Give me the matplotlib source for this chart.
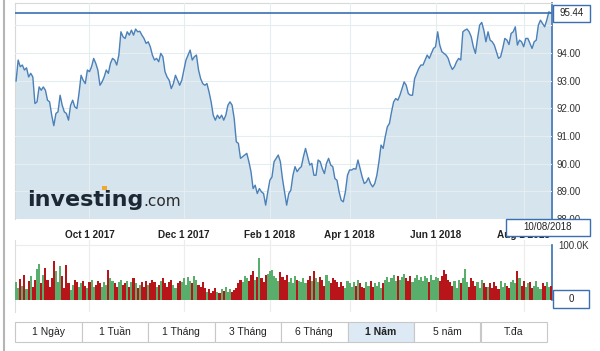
import numpy as np
import matplotlib.pyplot as plt
from matplotlib.patches import Rectangle
from matplotlib.lines import Line2D

# daily closes (one per trading day, Aug 2017 - Aug 2018)
price = [
    92.98, 93.74, 93.50, 93.56, 93.38, 93.46, 93.13, 93.26, 93.13, 92.17,
    92.23, 92.77, 92.65, 92.77, 92.65, 92.29, 92.23, 91.75, 91.37, 91.81,
    91.87, 92.47, 92.11, 91.87, 91.81, 91.57, 92.11, 92.29, 92.05, 91.99,
    92.53, 93.19, 93.01, 92.89, 93.38, 93.32, 93.50, 93.80, 93.62, 93.38,
    92.83, 92.95, 93.13, 93.38, 93.26, 93.62, 93.80,
    93.74, 93.56, 93.92, 94.76, 94.58, 94.52, 94.76, 94.64, 94.82, 94.64,
    94.86, 94.76, 94.78, 94.64, 94.52, 94.34, 94.40, 94.22, 93.92, 93.74,
    93.80, 93.68, 93.98, 93.86, 93.32, 93.13, 93.01, 92.71, 92.89, 93.19,
    93.01, 92.83, 93.01, 93.38, 93.74, 93.92, 94.10, 93.74, 93.86, 93.92,
    93.38, 93.07, 92.89, 92.83, 92.89, 92.59, 92.23, 91.75, 91.57, 91.75,
    91.63, 91.75,
    91.57, 91.75, 92.11, 92.23, 92.11, 91.63, 90.79, 90.73, 90.19, 90.25,
    90.31, 90.37, 90.07, 89.71, 89.10, 89.22, 88.92, 89.10, 88.98, 88.92,
    88.50, 88.98, 89.40, 89.52, 90.07, 90.19, 90.31, 90.07, 89.46, 88.98,
    88.50, 88.92, 89.04, 89.58, 89.89, 89.71, 89.82, 89.89, 90.25, 90.55,
    90.25, 89.95, 90.01, 89.58, 89.58, 90.13, 90.07, 89.82, 89.64, 90.01,
    90.19, 89.95, 89.89,
    89.46, 89.40, 88.98, 88.68, 88.62, 88.98, 89.58, 89.77, 89.77, 89.82,
    89.80, 90.13, 89.82, 89.52, 89.28, 89.34, 89.49, 89.28, 89.16, 89.28,
    89.58, 90.07, 90.67, 90.55, 90.97, 91.33, 91.45, 91.87, 92.23, 92.35,
    92.29, 92.47, 92.71, 92.95, 92.83, 92.53, 92.47, 92.47, 93.07, 93.26,
    93.44, 93.56, 93.56, 93.74, 93.92, 93.80, 93.98, 94.16, 94.22, 94.76,
    94.28, 94.04, 93.98,
    93.92, 93.80, 93.56, 93.40, 93.50, 93.68, 93.80, 93.74, 94.76, 94.82,
    94.86, 94.76, 94.58, 94.22, 93.98, 94.52, 95.00, 95.10, 94.82, 94.40,
    94.76, 94.46, 94.40, 94.28, 94.04, 93.80, 93.86, 94.16, 94.52, 94.46,
    94.30, 94.70, 94.76, 94.94, 94.28, 94.46, 94.40, 94.22, 94.52, 94.52,
    94.34, 94.16, 94.40, 94.46, 95.00, 95.18, 95.06, 94.94, 95.18, 95.48,
    95.44,
]

# daily volume in thousands
volume_k = [
    32, 22, 38, 26, 46, 20, 34, 44, 24, 36, 56, 66, 30, 46, 58, 36, 24, 40,
    70, 52, 32, 62, 44, 22, 64, 30, 18,
    28, 36, 32, 24, 30, 34, 26, 22, 32, 36, 24, 28, 34, 30, 24, 32, 28, 54,
    40, 34, 30, 24, 32, 36, 28, 30, 34, 24, 32, 40, 30, 22, 28, 32, 24, 34,
    28, 30, 36, 32, 24, 28, 34, 40, 30, 24, 32, 36, 28, 22, 30, 34,
    32, 40, 28, 42, 34, 30, 44, 36, 28, 24, 32, 22,
    14, 20, 12, 16, 22, 14, 12, 20, 16, 24, 15, 20, 14, 18, 22,
    30, 36, 32, 44, 40, 34, 46, 52, 36, 42, 76, 40, 32, 46, 48, 52, 54, 44,
    40, 34, 50, 42, 36, 46, 32, 40, 30, 44, 36, 34,
    32, 40, 30, 36, 44, 34, 52, 40, 32, 42, 36, 26, 46, 34, 30, 40, 36, 32,
    24, 32, 26, 22, 34, 30, 24, 32, 26, 36, 30, 24, 22, 32, 26, 34, 24, 30,
    26, 32, 22, 30,
    36, 42, 32, 40, 46, 34, 44, 36, 42, 48, 40, 34, 44, 32, 40, 46, 36, 42,
    34, 44, 40, 32, 46, 36, 42, 40, 34, 44, 54, 48, 36, 32,
    26, 34, 22, 36, 30, 40, 56, 32, 24, 40, 34, 26, 32, 22, 36, 30, 24,
    24, 30, 22, 32, 26, 20, 34, 24, 30, 26, 22, 32, 36, 30, 52, 40, 26, 34,
    24, 30, 32, 22, 26, 34, 24, 20, 30, 26, 32, 24, 26,
]

tick_idx = [35, 80, 121, 159, 200, 242]
tick_labels = ["Oct 1 2017", "Dec 1 2017", "Feb 1 2018", "Apr 1 2018", "Jun 1 2018", "Aug 1 2018"]
price_ticks = [88, 89, 90, 91, 92, 93, 94, 95]
last_price = 95.44
last_date = "10/08/2018"
buttons = ["1 Ngày", "1 Tuần", "1 Tháng", "3 Tháng", "6 Tháng", "1 Năm", "5 năm", "T.đa"]
active_button = "1 Năm"

W, H = 600, 351
BLUE = "#3a6fb0"


def fx(px):
    return px / W


def fy(py):
    return 1 - py / H


def box(fig, x0, y0, x1, y1, fc="white", ec=BLUE, lw=1.0, z=5):
    r = Rectangle((fx(x0), fy(y1)), (x1 - x0) / W, (y1 - y0) / H,
                  transform=fig.transFigure, fc=fc, ec=ec, lw=lw, zorder=z)
    fig.add_artist(r)


plt.rcParams["font.family"] = ["Liberation Sans", "DejaVu Sans"]

fig = plt.figure(figsize=(6, 3.51), dpi=100)
n = len(price)
x = np.arange(n)

# volume panel (created first so the price labels sit on top of it)
colors = ["#5aae6b" if i == 0 or price[i] >= price[i - 1] else "#b8151b" for i in range(n)]
axv = fig.add_axes([fx(15), fy(312), (552 - 15) / W, (312 - 240) / H])
axv.patch.set_visible(False)
axv.bar(x, volume_k, width=1.0, color=colors, lw=0, zorder=3)
axv.set_xlim(-0.5, n - 0.5)
axv.set_ylim(-21.8, 109)
axv.set_xticks(tick_idx)
axv.set_xticklabels([])
axv.set_yticks([])
axv.tick_params(axis="x", length=0)
axv.grid(True, axis="x", color="#ececec", lw=0.8)
axv.axhline(100, color="#ececec", lw=0.8)
for s in ["top", "bottom"]:
    axv.spines[s].set_visible(False)
axv.spines["left"].set_color("#dddddd")
axv.spines["right"].set_color(BLUE)
axv.spines["right"].set_linewidth(1.2)
axv.spines["right"].set_bounds(0, 100)

# price panel
ax = fig.add_axes([fx(15), fy(219), (552 - 15) / W, (219 - 3) / H])
ax.fill_between(x, price, 80, color="#d5e4ed", lw=0, zorder=1)
ax.plot(x, price, color="#4b80b8", lw=1.0, zorder=3)
ax.axhline(last_price, color=BLUE, lw=1.2, zorder=4)
ax.set_xlim(-0.5, n - 0.5)
ax.set_ylim(88.0, 95.8)
ax.set_yticks(price_ticks)
ax.set_yticklabels([f"{v:.2f}" if v < 95 else "" for v in price_ticks])
ax.yaxis.tick_right()
ax.tick_params(axis="y", length=0, pad=3.5, labelsize=7, labelcolor="#333333")
ax.set_xticks(tick_idx)
ax.set_xticklabels(tick_labels, fontweight="bold", fontsize=7.2, color="#222222")
ax.tick_params(axis="x", length=0, pad=8)
ax.set_axisbelow(False)
ax.grid(True, color="#e6edf1", lw=0.8)
for s in ["left", "top"]:
    ax.spines[s].set_color("#d8d8d8")
ax.spines["bottom"].set_visible(False)
ax.spines["right"].set_color(BLUE)
ax.spines["right"].set_linewidth(1.2)

# right-hand labels and boxes
fig.text(fx(558), fy(246), "100.0K", fontsize=7, color="#333333", va="center")
box(fig, 553, 290, 589, 308)
fig.text(fx(571), fy(299), "0", fontsize=7, color="#222222", ha="center", va="center", zorder=6)
box(fig, 553, 5, 590, 22)
fig.text(fx(571.5), fy(13.5), f"{last_price:.2f}", fontsize=7, color="#222222",
         ha="center", va="center", zorder=6)
box(fig, 506, 219, 590, 236)
fig.text(fx(548), fy(227.5), last_date, fontsize=7, color="#222222",
         ha="center", va="center", zorder=6)

# range buttons
bw = (547 - 15) / len(buttons)
for k, label in enumerate(buttons):
    x0 = 15 + k * bw
    is_active = label == active_button
    box(fig, x0, 322, x0 + bw, 342, fc="#dde9f4" if is_active else "white",
        ec="#c8c8c8", lw=0.8, z=2)
    fig.text(fx(x0 + bw / 2), fy(332), label, fontsize=7.5, color="#222222",
             ha="center", va="center", fontweight="bold" if is_active else "normal", zorder=3)

# investing.com logo
t1 = fig.text(fx(27), fy(206), "investing", fontsize=16, fontweight="bold",
              color="#1c2833", family="DejaVu Sans", va="baseline", zorder=6)
fig.canvas.draw()
bb = t1.get_window_extent()
fig.text(bb.x1 / W, fy(206), ".com", fontsize=11, color="#2b2b2b",
         family="DejaVu Sans", va="baseline", zorder=6)
box(fig, 102, 186, 107, 190, fc="#f0a830", ec="none", lw=0, z=7)

# page border on the left
fig.add_artist(Line2D([fx(3.5), fx(3.5)], [0, 1], transform=fig.transFigure,
                      color="#b5b5b5", lw=1.5))

fig.savefig("out.png", dpi=100)
